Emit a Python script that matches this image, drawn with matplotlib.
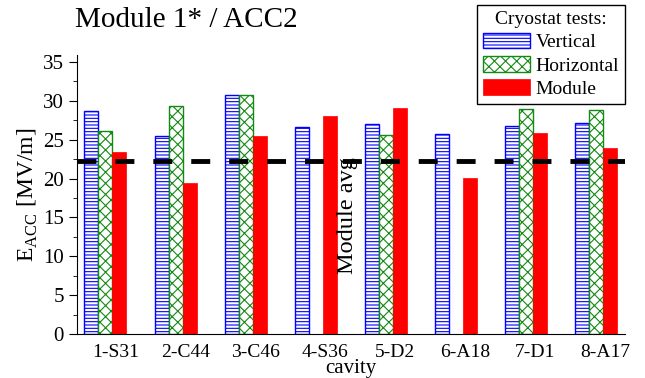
import matplotlib
matplotlib.use("Agg")
import matplotlib.pyplot as plt
import numpy as np

plt.rcParams["font.family"] = ["Liberation Serif", "DejaVu Serif"]
plt.rcParams["mathtext.fontset"] = "custom"
plt.rcParams["mathtext.rm"] = "Liberation Serif"
plt.rcParams["hatch.linewidth"] = 0.8

# data
cavities = ["1-S31", "2-C44", "3-C46", "4-S36", "5-D2", "6-A18", "7-D1", "8-A17"]
vertical = [28.7, 25.5, 30.8, 26.6, 27.0, 25.7, 26.8, 27.1]
horizontal = [26.1, 29.3, 30.7, np.nan, 25.6, np.nan, 29.0, 28.8]
module = [23.4, 19.4, 25.5, 28.1, 29.1, 20.1, 25.9, 23.9]
module_avg = 22.3

x = np.arange(len(cavities))
w = 0.2

fig = plt.figure(figsize=(6.45, 3.78), dpi=100)
ax = fig.add_axes([77 / 645, 44 / 378, 548 / 645, 279 / 378])

ax.bar(x - w, vertical, w, facecolor="white", edgecolor="#0000ff", hatch="-----",
       linewidth=1.0, label="Vertical")
ax.bar(x, horizontal, w, facecolor="white", edgecolor="#138a13", hatch="xxx",
       linewidth=1.0, label="Horizontal")
ax.bar(x + w, module, w, facecolor="#ff0000", edgecolor="#ff0000", linewidth=0.5,
       label="Module")

ax.set_xlim(-0.407, 7.42)
ax.set_ylim(0, 35.9)
ax.axhline(module_avg, color="black", lw=3.5, dashes=(3.9, 3.9), zorder=5)
ax.text(3.46, 22.8, "Module avg", rotation=90, ha="center", va="top", fontsize=17.5)

# labels sit a little right of the group centres in the original
ax.set_xticks(x + 0.14)
ax.set_xticklabels(cavities, fontsize=14)
ax.tick_params(axis="x", length=0, pad=7)
ax.set_yticks(np.arange(0, 36, 5))
ax.set_yticks(np.arange(0, 36, 2.5), minor=True)
ax.tick_params(axis="y", which="major", labelsize=15, length=6, direction="out")
ax.tick_params(axis="y", which="minor", length=3, direction="out")
for s in ("top", "right"):
    ax.spines[s].set_visible(False)

ax.set_xlabel("cavity", fontsize=15, labelpad=-1)
ax.set_ylabel(r"E$_{\mathrm{ACC}}$ [MV/m]", fontsize=17, labelpad=2)

fig.text(75 / 645, 1 - 7 / 378, "Module 1* / ACC2", fontsize=21, ha="left", va="top")

leg = fig.legend(loc="upper right", bbox_to_anchor=(625 / 645, 1 - 5 / 378),
                 title="Cryostat tests:", fontsize=14, title_fontsize=14,
                 frameon=True, fancybox=False, edgecolor="black", framealpha=1,
                 borderaxespad=0, handlelength=2.4, handleheight=0.85,
                 handletextpad=0.3, labelspacing=0.25, borderpad=0.3)
leg.get_frame().set_linewidth(1.0)

fig.savefig("out.png", dpi=100)
